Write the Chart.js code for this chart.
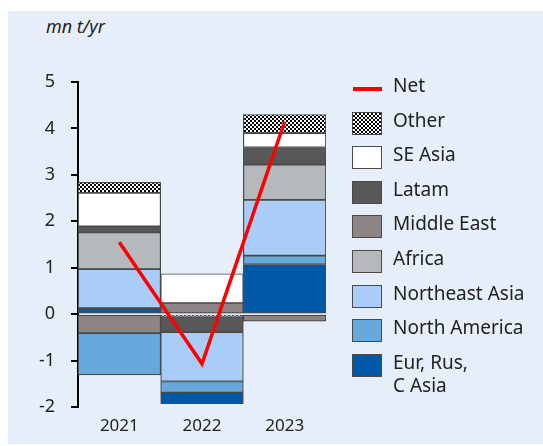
<!DOCTYPE html>
<html>
<head>
<meta charset="utf-8">
<script src="https://cdn.jsdelivr.net/npm/chart.js@4.4.1/dist/chart.umd.min.js"></script>
<style>
  body { margin: 0; background: #fff; font-family: 'Noto Sans', sans-serif; }
  #wrap { position: relative; width: 543px; height: 446px; }
  #panel { position: absolute; left: 8px; top: 11px; width: 535px; height: 433px; background: #e6eef9; }
  #chart { position: absolute; left: 0; top: 0; }
  #unit { position: absolute; left: 46px; top: 14px; font-size: 18px; font-style: italic; color: #222; }
  #legend { position: absolute; left: 352px; top: 74px; color: #222; font-size: 19px; }
  .item { position: relative; height: 34.6px; }
  .box { position: absolute; left: 0; top: 3px; width: 28px; height: 21px; border: 1.5px solid #4a4a4a; }
  .lbl { position: absolute; left: 41px; top: 0; line-height: 23px; white-space: nowrap; }
</style>
</head>
<body>
<div id="wrap">
  <div id="panel"></div>
  <div id="unit">mn t/yr</div>
  <canvas id="chart" width="543" height="446"></canvas>
  <div id="legend"></div>
</div>
<script>
// 数据
const years = ['2021', '2022', '2023'];
const eurRusCAsia = [0.13, -0.24, 1.07];
const northAmerica = [-0.90, -0.24, 0.19];
const northeastAsia = [0.84, -1.06, 1.20];
const africa = [0.79, 0, 0.76];
const middleEast = [-0.41, 0.24, -0.15];
const latam = [0.13, -0.34, 0.37];
const seAsia = [0.72, 0.63, 0.31];
const other = [0.23, -0.05, 0.40];
const net = [1.55, -1.07, 4.15];

// 棋盘格图案 (Other)
const pc = document.createElement('canvas');
pc.width = 4; pc.height = 4;
const pctx = pc.getContext('2d');
pctx.fillStyle = '#000';
pctx.fillRect(0, 0, 4, 4);
pctx.fillStyle = '#fff';
pctx.fillRect(0, 0, 2, 2);
pctx.fillRect(2, 2, 2, 2);
const ctx = document.getElementById('chart').getContext('2d');
const checker = ctx.createPattern(pc, 'repeat');

const series = [
    { label: 'Eur, Rus,\nC Asia', data: eurRusCAsia, color: '#0058a8' },
    { label: 'North America', data: northAmerica, color: '#67a9dd' },
    { label: 'Northeast Asia', data: northeastAsia, color: '#a9cdf6' },
    { label: 'Africa', data: africa, color: '#b5b9bc' },
    { label: 'Middle East', data: middleEast, color: '#8d8585' },
    { label: 'Latam', data: latam, color: '#585858' },
    { label: 'SE Asia', data: seAsia, color: '#ffffff' },
    { label: 'Other', data: other, color: checker }
];

function barSet(s, values) {
    return {
        type: 'bar',
        label: s.label,
        data: values,
        backgroundColor: s.color,
        borderColor: '#4a4a4a',
        borderWidth: 1.2,
        borderSkipped: false,
        barPercentage: 1,
        categoryPercentage: 1,
        order: 1
    };
}

// 正值从零向上堆叠，负值按相反顺序从零向下堆叠
const positives = series.map(s => barSet(s, s.data.map(v => v > 0 ? v : null)));
const negatives = series.slice().reverse().map(s => barSet(s, s.data.map(v => v < 0 ? v : null)));

const chart = new Chart(ctx, {
    data: {
        labels: years,
        datasets: [
            {
                type: 'line',
                label: 'Net',
                data: net,
                borderColor: '#ff0000',
                borderWidth: 3.5,
                pointRadius: 0,
                tension: 0,
                order: 0
            },
            ...positives,
            ...negatives
        ]
    },
    options: {
        responsive: false,
        animation: false,
        layout: { padding: { left: 30, right: 217, top: 82, bottom: 0 } },
        plugins: {
            legend: { display: false },
            tooltip: { enabled: false }
        },
        scales: {
            x: {
                stacked: true,
                grid: { display: false, drawTicks: false },
                border: { display: false },
                ticks: { color: '#222', font: { family: 'Noto Sans', size: 17 }, padding: 9 },
                afterFit: s => { s.height = 39; }
            },
            y: {
                stacked: true,
                min: -2,
                max: 5,
                ticks: { stepSize: 1, color: '#222', font: { family: 'Noto Sans', size: 18 }, padding: 16 },
                grid: { drawOnChartArea: false, drawTicks: true, tickLength: 7, color: '#000', lineWidth: 2 },
                border: { display: true, color: '#000', width: 2 },
                afterFit: s => { s.width = 48; }
            }
        }
    }
});

// 图例
const legend = document.getElementById('legend');
const items = [{ label: 'Net', line: true }].concat(series.slice().reverse());
items.forEach(it => {
    const row = document.createElement('div');
    row.className = 'item';
    if (it.line) {
        const ln = document.createElement('div');
        ln.style.cssText = 'position:absolute;left:1px;top:13px;width:29px;height:3.5px;background:#ff0000;';
        row.appendChild(ln);
    } else {
        const box = document.createElement('div');
        box.className = 'box';
        if (typeof it.color === 'string') box.style.background = it.color;
        else box.style.background = 'url(' + pc.toDataURL() + ') repeat';
        row.appendChild(box);
    }
    const lbl = document.createElement('div');
    lbl.className = 'lbl';
    lbl.innerHTML = it.label.replace('\n', '<br>');
    row.appendChild(lbl);
    legend.appendChild(row);
});
</script>
</body>
</html>
